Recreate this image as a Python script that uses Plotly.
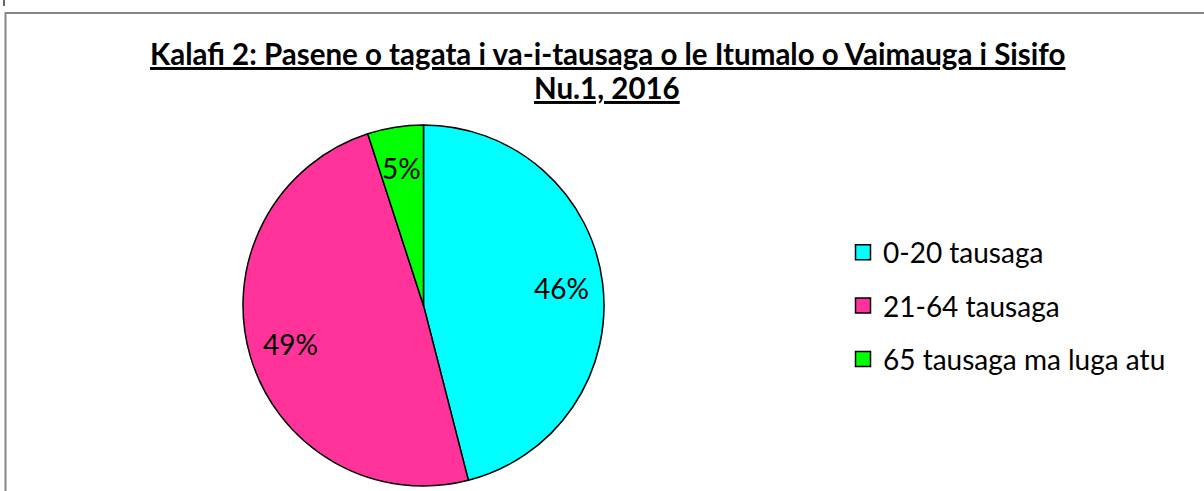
import math
import plotly.graph_objects as go

categories = ["0-20 tausaga", "21-64 tausaga", "65 tausaga ma luga atu"]
values = [46, 49, 5]
colors = ["#00FFFF", "#FF3399", "#00FF00"]
title_line1 = "Kalafi 2: Pasene o tagata i va-i-tausaga o le Itumalo o Vaimauga i Sisifo"
title_line2 = "Nu.1, 2016"

FONT = "Lato, Carlito, 'Liberation Sans', sans-serif"
W, H = 1204, 491

# pie placement (pixels)
PX0, PX1, PY0, PY1 = 243, 604, 124, 487

fig = go.Figure()
fig.add_trace(go.Pie(
    labels=categories, values=values, sort=False, direction="clockwise", rotation=0,
    marker=dict(colors=colors, line=dict(color="black", width=1.5)),
    textinfo="none",
    domain=dict(x=[PX0 / W, PX1 / W], y=[1 - PY1 / H, 1 - PY0 / H]),
    showlegend=False, hoverinfo="label+percent",
))

# data labels placed along each slice bisector
cx, cy = (PX0 + PX1) / 2, (PY0 + PY1) / 2
R = (PX1 - PX0) / 2
total = sum(values)
cum = 0
for v in values:
    mid = (cum + v / 2) / total * 2 * math.pi
    cum += v
    rr = 0.77 * R
    lx = cx + rr * math.sin(mid)
    ly = cy - rr * math.cos(mid)
    fig.add_annotation(text=f"{round(v / total * 100)}%", x=lx / W, y=1 - ly / H,
                       xref="paper", yref="paper", showarrow=False,
                       font=dict(family=FONT, size=28, color="black"),
                       xanchor="center", yanchor="middle")

for i, (c, col) in enumerate(zip(categories, colors)):
    fig.add_trace(go.Scatter(
        x=[None], y=[None], mode="markers", name=c, legendgroup=f"g{i}",
        marker=dict(symbol="square", size=15, color=col, line=dict(color="black", width=1.5)),
    ))

fig.add_annotation(text=f"<b><u>{title_line1}</u></b>", x=607 / W, y=1 - 53 / H,
                   xref="paper", yref="paper", showarrow=False,
                   font=dict(family=FONT, size=29.5, color="black"), xanchor="center", yanchor="middle")
fig.add_annotation(text=f"<b><u>{title_line2}</u></b>", x=607 / W, y=1 - 88 / H,
                   xref="paper", yref="paper", showarrow=False,
                   font=dict(family=FONT, size=29.5, color="black"), xanchor="center", yanchor="middle")

# chart area border and small mark
fig.add_shape(type="rect", xref="paper", yref="paper", x0=5.5 / W, x1=1.05, y0=-0.05, y1=1 - 13 / H,
              line=dict(color="#868686", width=2), fillcolor="rgba(0,0,0,0)")
fig.add_shape(type="line", xref="paper", yref="paper", x0=4 / W, x1=4 / W, y0=1, y1=1 - 6 / H,
              line=dict(color="#333333", width=1.5))

fig.update_layout(
    width=W, height=H, margin=dict(l=0, r=0, t=0, b=0),
    paper_bgcolor="white", plot_bgcolor="white",
    xaxis=dict(visible=False), yaxis=dict(visible=False),
    legend=dict(x=843 / W, y=1 - 306 / H, xanchor="left", yanchor="middle",
                font=dict(family=FONT, size=28, color="black"),
                tracegroupgap=14, bgcolor="rgba(0,0,0,0)", itemclick=False),
    showlegend=True,
)
fig.write_html("out.html", config={"displayModeBar": False},
               post_script="document.body.style.margin='0';")
